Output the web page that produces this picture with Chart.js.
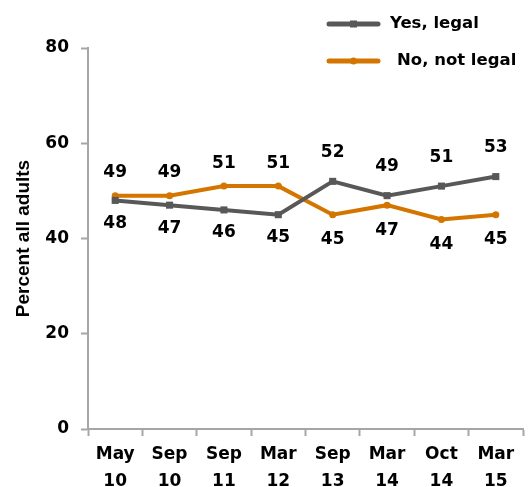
<!DOCTYPE html>
<html>
<head>
<meta charset="utf-8">
<script src="https://cdn.jsdelivr.net/npm/chart.js@4/dist/chart.umd.min.js"></script>
<style>
  html, body { margin: 0; padding: 0; background: #fff; }
  #wrap { width: 528px; height: 487px; position: relative; }
</style>
</head>
<body>
<div id="wrap"><canvas id="chart"></canvas></div>
<script>
// survey waves, two-line tick labels
var waves = [['May', '10'], ['Sep', '10'], ['Sep', '11'], ['Mar', '12'], ['Sep', '13'], ['Mar', '14'], ['Oct', '14'], ['Mar', '15']];
var yesLegal = [48, 47, 46, 45, 52, 49, 51, 53];
var notLegal = [49, 49, 51, 51, 45, 47, 44, 45];
var yTicks = [0, 20, 40, 60, 80];

var GRAY = '#585858';
var ORANGE = '#d47500';
var FONT = '"DejaVu Sans", sans-serif';
var TITLE_FONT = '"Liberation Sans", Arial, sans-serif';

// value labels: the higher series sits above its point, the lower one below
var labelGap = [{ up: 29, down: 23 }, { up: 23, down: 25 }];
var valueLabels = {
  id: 'valueLabels',
  afterDatasetsDraw: function(chart) {
    var ctx = chart.ctx;
    ctx.save();
    ctx.font = 'bold 17px ' + FONT;
    ctx.fillStyle = '#000';
    ctx.textAlign = 'center';
    ctx.textBaseline = 'middle';
    chart.data.datasets.forEach(function(ds, di) {
      var other = chart.data.datasets[1 - di].data;
      chart.getDatasetMeta(di).data.forEach(function(pt, i) {
        var above = ds.data[i] >= other[i];
        var y = above ? pt.y - labelGap[di].up : pt.y + labelGap[di].down;
        ctx.fillText(ds.data[i], pt.x, y);
      });
    });
    ctx.restore();
  }
};

// legend block in the top right corner
var cornerLegend = {
  id: 'cornerLegend',
  afterDraw: function(chart) {
    var ctx = chart.ctx;
    var rows = [[24, 390], [61, 397]];
    ctx.save();
    chart.data.datasets.forEach(function(ds, i) {
      var y = rows[i][0];
      ctx.strokeStyle = ds.borderColor;
      ctx.lineWidth = 5;
      ctx.lineCap = 'round';
      ctx.beginPath();
      ctx.moveTo(329, y);
      ctx.lineTo(378, y);
      ctx.stroke();
      ctx.fillStyle = ds.borderColor;
      if (ds.pointStyle === 'rect') {
        ctx.fillRect(350, y - 3.5, 7, 7);
      } else {
        ctx.beginPath();
        ctx.arc(353.5, y, 3.5, 0, Math.PI * 2);
        ctx.fill();
      }
      ctx.fillStyle = '#000';
      ctx.font = 'bold 16.5px ' + FONT;
      ctx.textBaseline = 'middle';
      ctx.fillText(ds.label, rows[i][1], y);
    });
    ctx.restore();
  }
};

new Chart(document.getElementById('chart'), {
  type: 'line',
  data: {
    labels: waves,
    datasets: [
      {
        label: 'Yes, legal',
        data: yesLegal,
        borderColor: GRAY,
        backgroundColor: GRAY,
        borderWidth: 4,
        pointStyle: 'rect',
        pointRadius: 5,
        pointBorderWidth: 0,
        pointHoverRadius: 5,
        tension: 0
      },
      {
        label: 'No, not legal',
        data: notLegal,
        borderColor: ORANGE,
        backgroundColor: ORANGE,
        borderWidth: 4,
        pointStyle: 'circle',
        pointRadius: 3.5,
        pointBorderWidth: 0,
        pointHoverRadius: 3.5,
        tension: 0
      }
    ]
  },
  options: {
    responsive: true,
    maintainAspectRatio: false,
    animation: false,
    layout: { padding: { top: 48, right: 0, bottom: 0, left: 0 } },
    plugins: {
      legend: { display: false },
      tooltip: { enabled: false }
    },
    scales: {
      x: {
        offset: true,
        grid: {
          offset: true,
          drawOnChartArea: false,
          drawTicks: true,
          tickLength: 7,
          tickWidth: 2,
          tickColor: '#a6a6a6'
        },
        border: { color: '#a6a6a6', width: 2 },
        ticks: {
          color: '#000',
          font: { family: FONT, size: 17, weight: 'bold', lineHeight: 1.6 },
          padding: 5,
          maxRotation: 0,
          autoSkip: false
        },
        afterFit: function(scale) { scale.height = 58; }
      },
      y: {
        min: 0,
        max: 80,
        afterBuildTicks: function(scale) {
          scale.ticks = yTicks.map(function(v) { return { value: v }; });
        },
        grid: {
          drawOnChartArea: false,
          drawTicks: true,
          tickLength: 7,
          tickWidth: 2,
          tickColor: '#a6a6a6'
        },
        border: { color: '#a6a6a6', width: 2 },
        ticks: {
          color: '#000',
          font: { family: FONT, size: 17, weight: 'bold' },
          padding: 12
        },
        title: {
          display: true,
          text: 'Percent all adults',
          color: '#000',
          font: { family: TITLE_FONT, size: 19, weight: 'bold' },
          padding: { top: 12, bottom: 0 }
        },
        afterFit: function(scale) { scale.width = 88; }
      }
    }
  },
  plugins: [valueLabels, cornerLegend]
});
</script>
</body>
</html>
